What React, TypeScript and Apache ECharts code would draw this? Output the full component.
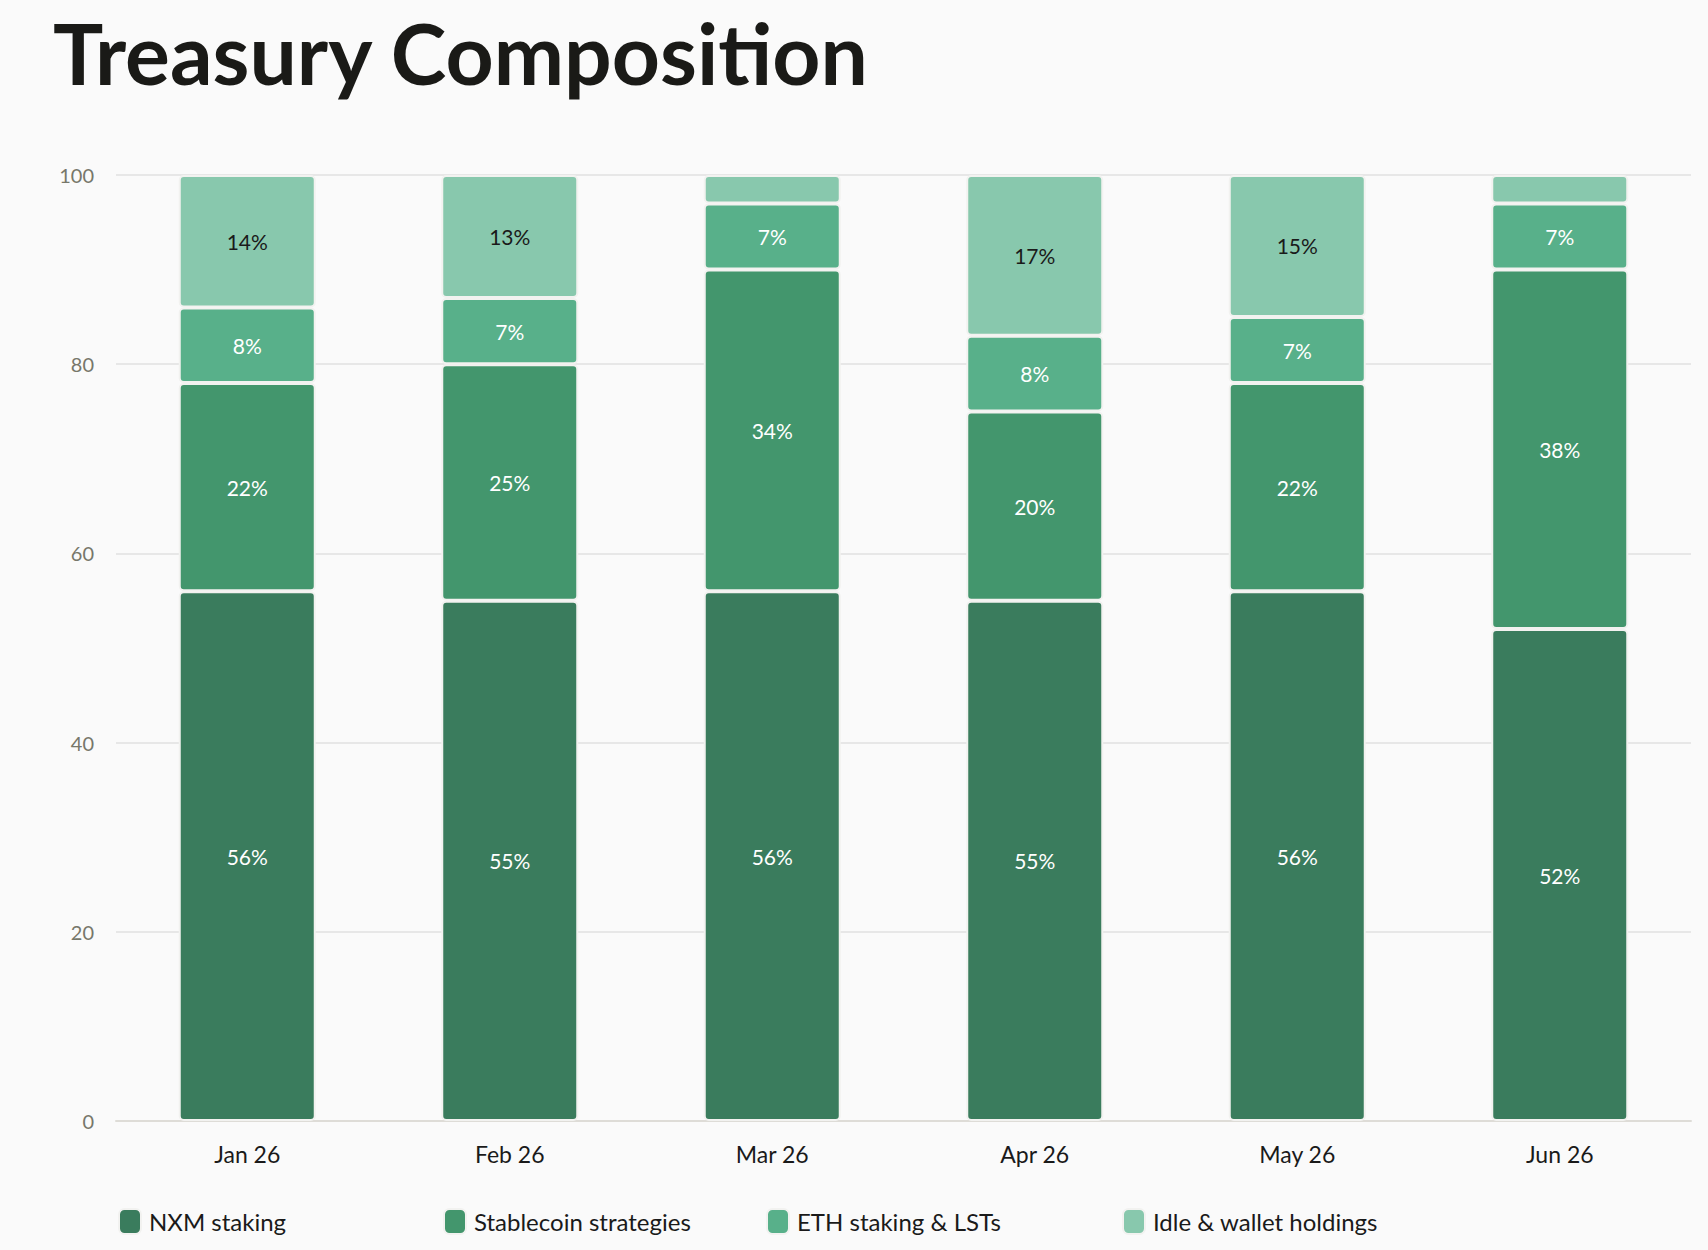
import React, { useEffect, useRef } from "react";
import * as echarts from "echarts";

const categories = ["Jan 26", "Feb 26", "Mar 26", "Apr 26", "May 26", "Jun 26"];
const seriesNames = ["NXM staking", "Stablecoin strategies", "ETH staking & LSTs", "Idle & wallet holdings"];
const nxmStaking = [56, 55, 56, 55, 56, 52];
const stablecoin = [22, 25, 34, 20, 22, 38];
const ethStaking = [8, 7, 7, 8, 7, 7];
const idleWallet = [14, 13, 3, 17, 15, 3];
const yTicks = [0, 20, 40, 60, 80, 100];
const colors = ["#3a7c5d", "#43966d", "#58b08a", "#88c8ad"];
const labelColors = ["#ffffff", "#ffffff", "#ffffff", "#1a1a1a"];
const legendLefts = [118, 443, 766, 1122];

const FONT = "Lato";

export default function App() {
  const ref = useRef<HTMLDivElement>(null);
  useEffect(() => {
    document.body.style.margin = "0";
    document.body.style.background = "#fafafa";
    const chart = echarts.init(ref.current!, null, { renderer: "svg" });
    const values = [nxmStaking, stablecoin, ethStaking, idleWallet];
    const option: any = {
      animation: false,
      backgroundColor: "#fafafa",
      title: {
        text: "Treasury Composition",
        left: 48,
        top: 5,
        textStyle: { fontFamily: FONT, fontSize: 84, fontWeight: 700, color: "#1a1a17" },
      },
      legend: seriesNames.map((name, i) => ({
        data: [name],
        left: legendLefts[i],
        top: 1208,
        padding: 0,
        itemWidth: 22,
        itemHeight: 25,
        icon: "roundRect",
        textStyle: { fontFamily: FONT, fontSize: 24, color: "#1a1a1a", padding: [0, 0, 0, 3] },
      })),
      grid: { left: 116, right: 17, top: 175, bottom: 1250 - 1121 },
      xAxis: {
        type: "category",
        data: categories,
        axisLine: { show: true, lineStyle: { color: "#dedcd7", width: 2 } },
        axisTick: { show: false },
        axisLabel: { margin: 21, fontFamily: FONT, fontSize: 23, color: "#1a1a1a" },
      },
      yAxis: {
        type: "value",
        min: 0,
        max: 100,
        interval: 20,
        axisLine: { show: false },
        axisTick: { show: false },
        splitLine: { lineStyle: { color: "#e0e0e0", width: 1.5 } },
        axisLabel: {
          margin: 22,
          fontFamily: FONT,
          fontSize: 20,
          color: "#77776a",
          formatter: (v: number) => (yTicks.includes(v) ? String(v) : ""),
        },
      },
      series: seriesNames.map((name, i) => ({
        name,
        type: "bar",
        stack: "total",
        barWidth: 137,
        data: values[i],
        itemStyle: { color: colors[i], borderColor: "#f2f2f0", borderWidth: 2, borderRadius: 4 },
        label: {
          show: true,
          position: "inside",
          fontFamily: FONT,
          fontSize: 21,
          color: labelColors[i],
          formatter: (p: any) => (p.value >= 5 ? p.value + "%" : ""),
        },
      })),
    };
    chart.setOption(option);
    return () => chart.dispose();
  }, []);
  return <div ref={ref} style={{ width: 1708, height: 1250 }} />;
}
